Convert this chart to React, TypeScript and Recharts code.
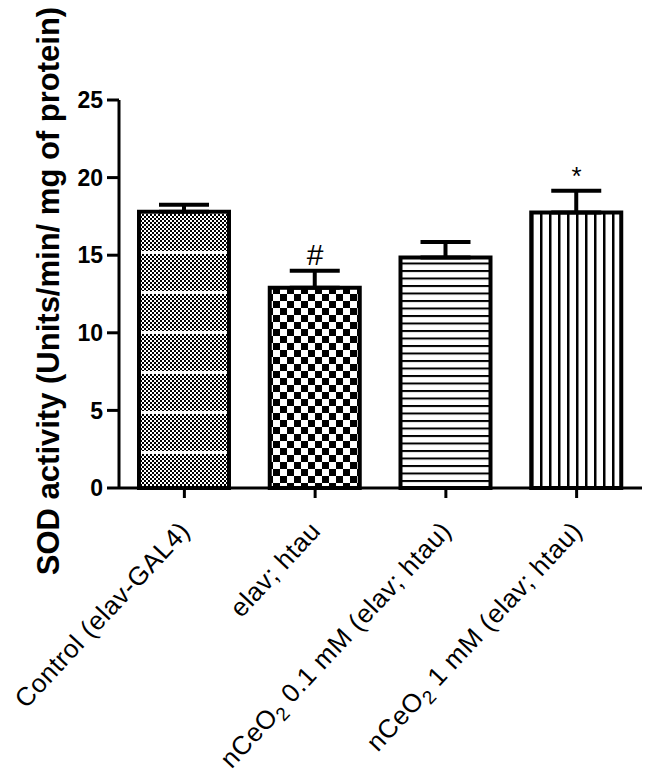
import React from 'react';
import { BarChart, Bar, XAxis, YAxis, ErrorBar, Cell, ReferenceDot } from 'recharts';

const categories = ['Control (elav-GAL4)', 'elav; htau', 'nCeO2 0.1 mM (elav; htau)', 'nCeO2 1 mM (elav; htau)'];
const sodValues = [17.8, 12.9, 14.85, 17.75];
const semValues = [0.45, 1.1, 1.0, 1.4];
const markers = ['', '#', '', '*'];
const yTicks = [0, 5, 10, 15, 20, 25];
const yTitle = 'SOD activity (Units/min/ mg of protein)';
const patternIds = ['patDots', 'patChecker', 'patHLines', 'patVLines'];

const FONT = '"Liberation Sans", Arial, sans-serif';

const data = categories.map((name, i) => ({
  name,
  value: sodValues[i],
  err: [0, semValues[i]],
  top: sodValues[i] + semValues[i],
  mark: markers[i],
}));

const XTick = (props: any) => {
  const { x, y, payload } = props;
  const label: string = payload.value;
  const fs = 26;
  let content: any = label;
  if (label.startsWith('nCeO2')) {
    const rest = label.slice(5);
    content = [
      <tspan key="a">nCeO</tspan>,
      <tspan key="b" dy={6} fontSize={19}>2</tspan>,
      <tspan key="c" dy={-6}>{rest}</tspan>,
    ];
  }
  return (
    <g transform={`translate(${x + 7},${y + 34})`}>
      <text x={0} y={0} textAnchor="end" transform="rotate(-47)" fontSize={fs} letterSpacing={0.6} fontFamily={FONT} fill="#000">
        {content}
      </text>
    </g>
  );
};

const YLabel = () => {
  const cy = 291;
  const x = 59;
  return (
    <text x={x} y={cy} textAnchor="middle" transform={`rotate(-90, ${x}, ${cy})`} fontSize={31} fontWeight="bold" fontFamily={FONT} fill="#000">
      {yTitle}
    </text>
  );
};

const MarkShape = (mark: string) => (props: any) => {
  const { cx, cy } = props;
  return (
    <text x={cx} y={cy - 6} textAnchor="middle" fontSize={mark === '#' ? 30 : 26} fontFamily={FONT} fill="#000">
      {mark}
    </text>
  );
};

export default function App() {
  return (
    <div style={{ position: 'absolute', left: 0, top: 0, width: 645, height: 784, background: '#fff' }}>
      <svg width={0} height={0} style={{ position: 'absolute' }}>
        <defs>
          <pattern id="patDotsBase" width={4} height={4} patternUnits="userSpaceOnUse">
            <rect width={4} height={4} fill="#fff" />
            <rect x={0} y={0} width={2} height={2} fill="#000" />
            <rect x={2} y={2} width={2} height={2} fill="#000" />
          </pattern>
          <pattern id="patDots" width={4} height={40} patternUnits="userSpaceOnUse">
            <rect width={4} height={40} fill="url(#patDotsBase)" />
            <rect x={0} y={11} width={4} height={3} fill="#fff" />
          </pattern>
          <pattern id="patChecker" width={14} height={14} patternUnits="userSpaceOnUse">
            <rect width={14} height={14} fill="#fff" />
            <rect x={0} y={0} width={7} height={7} fill="#000" />
            <rect x={7} y={7} width={7} height={7} fill="#000" />
          </pattern>
          <pattern id="patHLines" width={10} height={7.5} patternUnits="userSpaceOnUse">
            <rect width={10} height={7.5} fill="#fff" />
            <rect x={0} y={0} width={10} height={2} fill="#000" />
          </pattern>
          <pattern id="patVLines" width={9} height={10} patternUnits="userSpaceOnUse">
            <rect width={9} height={10} fill="#fff" />
            <rect x={0} y={0} width={2.5} height={10} fill="#000" />
          </pattern>
        </defs>
      </svg>
      <BarChart width={645} height={784} data={data} margin={{ top: 100, right: 3, bottom: 0, left: 0 }}>
        <XAxis
          dataKey="name"
          height={296}
          interval={0}
          tickSize={10}
          tickMargin={0}
          axisLine={{ stroke: '#000', strokeWidth: 3 }}
          tickLine={{ stroke: '#000', strokeWidth: 3 }}
          tick={<XTick />}
        />
        <YAxis
          width={119}
          domain={[0, 25]}
          ticks={yTicks}
          tickSize={12}
          tickMargin={4}
          axisLine={{ stroke: '#000', strokeWidth: 3 }}
          tickLine={{ stroke: '#000', strokeWidth: 3 }}
          tick={{ fontSize: 23, fontWeight: 'bold', fontFamily: FONT, fill: '#000' }}
          label={<YLabel />}
        />
        <Bar dataKey="value" barSize={90} stroke="#000" strokeWidth={4} isAnimationActive={false}>
          {data.map((d, i) => (
            <Cell key={d.name} fill={`url(#${patternIds[i]})`} />
          ))}
          <ErrorBar dataKey="err" width={25} stroke="#000" strokeWidth={4} direction="y" isAnimationActive={false} />
        </Bar>
        {data
          .filter((d) => d.mark)
          .map((d) => (
            <ReferenceDot key={d.name} x={d.name} y={d.top} r={0} shape={MarkShape(d.mark)} />
          ))}
      </BarChart>
    </div>
  );
}
